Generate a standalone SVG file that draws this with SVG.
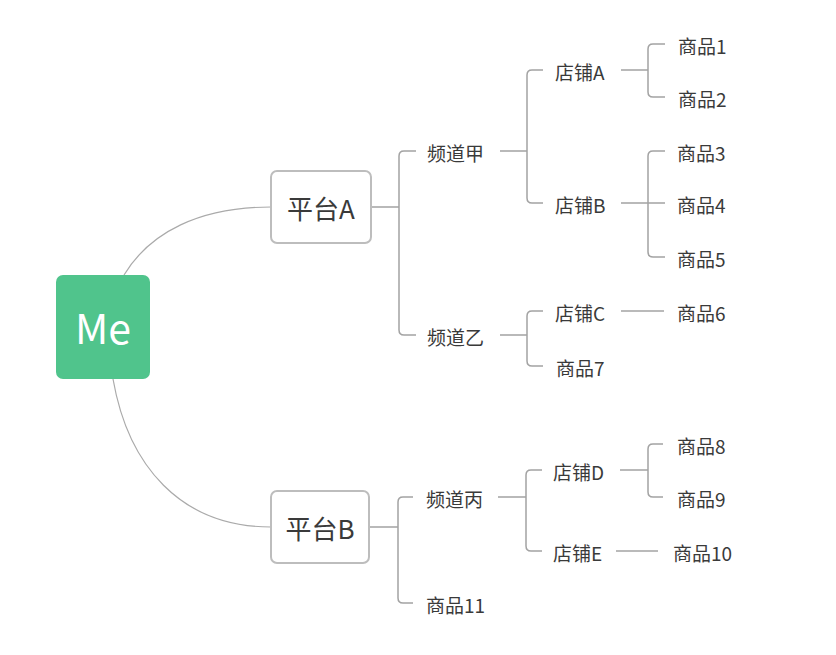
<svg xmlns="http://www.w3.org/2000/svg" width="836" height="655" viewBox="0 0 836 655">
<style>
.c{fill:none;stroke:#a3a3a3;stroke-width:1.5}
.cv{fill:none;stroke:#aaaaaa;stroke-width:1.2}
.t{font-family:"Noto Sans CJK SC","Microsoft YaHei",sans-serif;font-size:19px;fill:#3a3a3a;dominant-baseline:central}
.p{font-family:"Noto Sans CJK SC","Microsoft YaHei",sans-serif;font-size:26px;fill:#3a3a3a;dominant-baseline:central;text-anchor:middle}
.box{fill:#fff;stroke:#bdbdbd;stroke-width:2}
</style>
<rect width="836" height="655" fill="#fff"/>
<g id="connectors">
<path class="cv" d="M124,275 C150,232 200,207 271,207"/>
<path class="cv" d="M113,379 C128,465 180,527 271,527"/>
<path class="c" d="M371,207 H399 M416,151 H404 Q399,151 399,156 V330 Q399,335 404,335 H416"/>
<path class="c" d="M500,151 H527 M543,70 H532 Q527,70 527,75 V198 Q527,203 532,203 H543"/>
<path class="c" d="M621,70 H648 M665,44 H653 Q648,44 648,49 V92 Q648,97 653,97 H665"/>
<path class="c" d="M621,203 H665 M665,151 H653 Q648,151 648,156 V252 Q648,257 653,257 H665"/>
<path class="c" d="M500,335 H527 M543,311 H532 Q527,311 527,316 V361 Q527,366 532,366 H543"/>
<path class="c" d="M621,311 H664"/>
<path class="c" d="M369,527 H398 M413,497 H403 Q398,497 398,502 V598 Q398,603 403,603 H413"/>
<path class="c" d="M498,497 H526 M542,470 H531 Q526,470 526,475 V546 Q526,551 531,551 H542"/>
<path class="c" d="M620,470 H648 M663,444 H653 Q648,444 648,449 V492 Q648,497 653,497 H663"/>
<path class="c" d="M616,551 H658"/>
</g>
<g id="me"><rect x="56" y="275" width="94" height="104" rx="7" fill="#50c48c"/><text x="103" y="326" font-family="Noto Sans CJK SC,sans-serif" font-size="41" fill="#fff" text-anchor="middle" dominant-baseline="central">Me</text></g>
<g id="platformA"><rect class="box" x="271" y="171" width="100" height="72" rx="6"/><text class="p" x="321" y="207">平台A</text></g>
<g id="platformB"><rect class="box" x="271" y="491" width="98" height="72" rx="6"/><text class="p" x="320" y="527">平台B</text></g>
<g id="ch1"><text class="t" x="427" y="152">频道甲</text></g>
<g id="ch2"><text class="t" x="427" y="336">频道乙</text></g>
<g id="ch3"><text class="t" x="426" y="498">频道丙</text></g>
<g id="shopA"><text class="t" x="555" y="71">店铺A</text></g>
<g id="shopB"><text class="t" x="555" y="204">店铺B</text></g>
<g id="shopC"><text class="t" x="555" y="312">店铺C</text></g>
<g id="shopD"><text class="t" x="553" y="471">店铺D</text></g>
<g id="shopE"><text class="t" x="553" y="552">店铺E</text></g>
<g id="item1"><text class="t" x="678" y="45">商品1</text></g>
<g id="item2"><text class="t" x="678" y="98">商品2</text></g>
<g id="item3"><text class="t" x="677" y="152">商品3</text></g>
<g id="item4"><text class="t" x="677" y="204">商品4</text></g>
<g id="item5"><text class="t" x="677" y="258">商品5</text></g>
<g id="item6"><text class="t" x="677" y="312">商品6</text></g>
<g id="item7"><text class="t" x="556" y="367">商品7</text></g>
<g id="item8"><text class="t" x="677" y="445">商品8</text></g>
<g id="item9"><text class="t" x="677" y="498">商品9</text></g>
<g id="item10"><text class="t" x="673" y="552">商品10</text></g>
<g id="item11"><text class="t" x="426" y="604">商品11</text></g>
</svg>
